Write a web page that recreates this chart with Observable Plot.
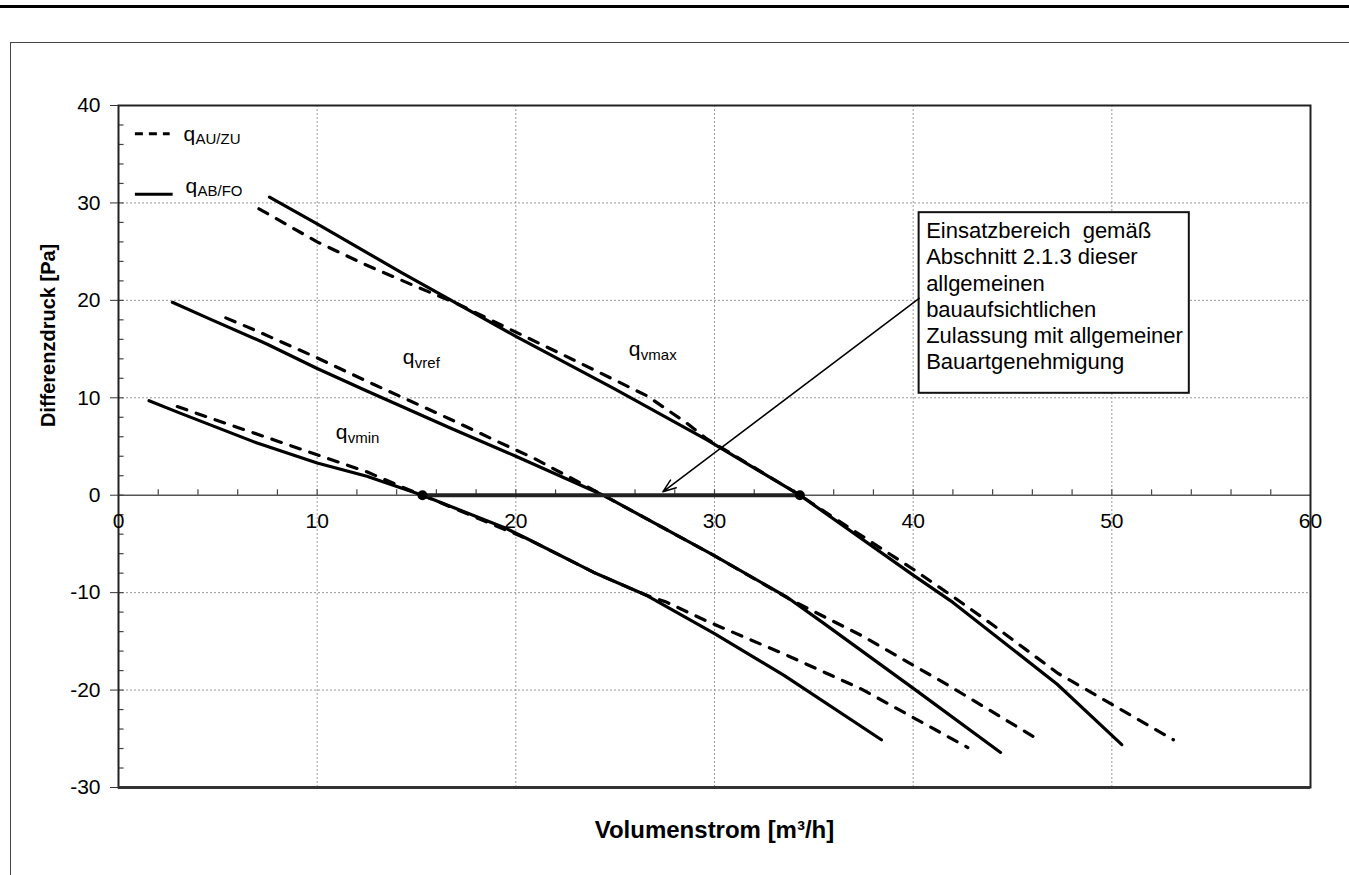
<!DOCTYPE html>
<html>
<head>
<meta charset="utf-8">
<script src="https://cdn.jsdelivr.net/npm/d3@7"></script>
<script src="https://cdn.jsdelivr.net/npm/@observablehq/plot@0.6"></script>
<style>
  html, body { margin: 0; padding: 0; background: #fff; }
  #wrap { position: relative; width: 1349px; height: 875px; overflow: hidden; background: #fff; }
  #wrap svg { position: absolute; left: 0; top: 0; }
  .deco { position: absolute; pointer-events: none; }
</style>
</head>
<body>
<div id="wrap"></div>
<script>
// ---- data ----
const xTicks = [0, 10, 20, 30, 40, 50, 60];
const yTicks = [-30, -20, -10, 0, 10, 20, 30, 40];

// q_vmax
const vmaxABx = [7.6, 10, 14.2, 20, 24.9, 29.6, 34.3, 40, 42, 47.25, 50.5];
const vmaxABy = [30.6, 27.85, 22.9, 16.3, 11.0, 5.7, 0, -8.2, -11.0, -19.4, -25.6];
const vmaxAUx = [7.07, 10, 12.5, 15, 17, 20.55, 23.2, 26.6, 28.6, 29.6, 34.3, 36, 40, 42, 44, 47.3, 53.1];
const vmaxAUy = [29.4, 26.0, 23.6, 21.4, 19.7, 16.2, 13.6, 10.2, 7.4, 5.8, 0, -2.3, -7.6, -10.4, -13.3, -18.3, -25.1];

// q_vref
const vrefABx = [2.71, 4.64, 7.49, 10, 12.5, 16.7, 20, 24.4, 29.9, 33.6, 35.4, 40.06, 44.4];
const vrefABy = [19.8, 18.05, 15.5, 13.0, 10.7, 6.9, 4.0, 0, -6.1, -10.4, -13.0, -19.9, -26.4];
const vrefAUx = [5.4, 6.8, 10, 12.5, 16.7, 19.2, 20.9, 24.4, 29.9, 33.9, 37.4, 41.8, 46.4];
const vrefAUy = [18.2, 17.0, 14.1, 11.7, 7.8, 5.4, 3.8, 0, -6.1, -10.8, -14.4, -19.55, -25.2];

// q_vmin
const vminABx = [1.54, 3.13, 6.98, 10, 12.5, 15.3, 19.5, 20.6, 23.9, 26.6, 30.0, 33.5, 38.4];
const vminABy = [9.7, 8.4, 5.35, 3.3, 1.95, 0, -3.4, -4.5, -7.9, -10.3, -14.2, -18.5, -25.1];
const vminAUx = [2.96, 4.64, 7.8, 10, 12.5, 14.2, 15.3, 20.6, 23.9, 26.6, 27.5, 29.7, 33.5, 37.4, 42.75];
const vminAUy = [9.1, 7.9, 5.7, 4.15, 2.4, 0.9, 0, -4.5, -7.9, -10.3, -10.9, -13.0, -16.3, -19.9, -25.9];

// operating range (Einsatzbereich) end points on the zero line
const rangeX = [15.3, 34.3];

const curveNames = ["vmax", "vref", "vmin"];
const curveLabelX = [25.69, 14.31, 10.93];
const curveLabelY = [14.26, 13.5, 5.8];

const legendKinds = ["AU/ZU", "AB/FO"];
const annotation = "Einsatzbereich\u00a0 gemäß\nAbschnitt 2.1.3 dieser\nallgemeinen\nbauaufsichtlichen\nZulassung mit allgemeiner\nBauartgenehmigung";

// ---- build tables ----
const seriesList = [
  {name: "vmax", kind: "AB/FO", xs: vmaxABx, ys: vmaxABy},
  {name: "vmax", kind: "AU/ZU", xs: vmaxAUx, ys: vmaxAUy},
  {name: "vref", kind: "AB/FO", xs: vrefABx, ys: vrefABy},
  {name: "vref", kind: "AU/ZU", xs: vrefAUx, ys: vrefAUy},
  {name: "vmin", kind: "AB/FO", xs: vminABx, ys: vminABy},
  {name: "vmin", kind: "AU/ZU", xs: vminAUx, ys: vminAUy}
];
const rows = seriesList.flatMap(s => s.xs.map((x, i) => ({x, y: s.ys[i], id: s.name + " " + s.kind, kind: s.kind})));
const dashedRows = rows.filter(d => d.kind === "AU/ZU");
const solidRows = rows.filter(d => d.kind === "AB/FO");
const labels = curveNames.map((n, i) => ({sub: n, x: curveLabelX[i], y: curveLabelY[i]}));

const font = "'Liberation Sans', Arial, Helvetica, sans-serif";

const chart = Plot.plot({
  width: 1349,
  height: 875,
  marginLeft: 118,
  marginRight: 39,
  marginTop: 105,
  marginBottom: 88,
  x: {domain: [0, 60], axis: null},
  y: {domain: [-30, 40], axis: null},
  style: {fontFamily: font, background: "transparent", color: "#000", overflow: "visible"},
  marks: [
    Plot.gridX([10, 20, 30, 40, 50], {stroke: "#999", strokeOpacity: 1, strokeWidth: 1, strokeDasharray: "2,2"}),
    Plot.gridY([-20, -10, 10, 20, 30], {stroke: "#999", strokeOpacity: 1, strokeWidth: 1, strokeDasharray: "2,2"}),
    // zero axis with minor ticks
    Plot.ruleY([0], {stroke: "#555", strokeWidth: 1.6}),
    Plot.ruleX(d3.range(2, 60, 2), {y1: 0, y2: 0.55, stroke: "#444", strokeWidth: 1.2}),
    Plot.ruleY(d3.range(-28, 40, 2), {x1: 0, x2: 0.28, stroke: "#444", strokeWidth: 1.2}),
    // curves
    Plot.line(dashedRows, {x: "x", y: "y", z: "id", stroke: "#000", strokeWidth: 3.2, strokeDasharray: "10,10", strokeLinecap: "round"}),
    Plot.line(solidRows, {x: "x", y: "y", z: "id", stroke: "#000", strokeWidth: 3.2, strokeLinecap: "round"}),
    // operating range
    Plot.line(rangeX.map(x => ({x, y: 0})), {x: "x", y: "y", stroke: "#222", strokeWidth: 4}),
    Plot.dot(rangeX.map(x => ({x, y: 0})), {x: "x", y: "y", r: 5, fill: "#000", stroke: "none"}),
    // annotation box and arrow
    Plot.rect([0], {x1: 40.3, x2: 53.9, y1: 10.46, y2: 29.0, fill: "white", stroke: "#111", strokeWidth: 2}),
    Plot.text([annotation], {x: 40.3, y: 29.0, dx: 7, dy: 7, textAnchor: "start", lineAnchor: "top", lineHeight: 1.19, fontSize: 22, fill: "#000"}),
    Plot.arrow([0], {x1: 40.3, y1: 20.2, x2: 27.4, y2: 0.35, stroke: "#000", strokeWidth: 1.5, headLength: 14, headAngle: 40}),
    // curve labels
    Plot.text(labels, {x: "x", y: "y", text: () => "q", textAnchor: "start", lineAnchor: "bottom", fontSize: 21}),
    Plot.text(labels, {x: "x", y: "y", text: "sub", dx: 12, dy: 4, textAnchor: "start", lineAnchor: "bottom", fontSize: 15}),
    // legend
    Plot.ruleY([37.1], {x1: 0.85, x2: 2.6, stroke: "#000", strokeWidth: 3, strokeDasharray: "8,6"}),
    Plot.ruleY([30.9], {x1: 0.85, x2: 2.75, stroke: "#000", strokeWidth: 3}),
    Plot.text(legendKinds, {x: [3.27, 3.37], y: [36.4, 30.97], text: () => "q", textAnchor: "start", lineAnchor: "bottom", fontSize: 21}),
    Plot.text(legendKinds, {x: [3.27, 3.37], y: [36.4, 30.97], text: d => d, dx: 12, dy: 3, textAnchor: "start", lineAnchor: "bottom", fontSize: 15}),
    // frame and axes
    Plot.frame({stroke: "#222", strokeWidth: 2}),
    Plot.ruleY([-30], {stroke: "#333", strokeWidth: 3}),
    Plot.axisY(yTicks, {tickSize: 8, tickPadding: 10, fontSize: 21, label: null, stroke: "#333", tickFormat: d => String(d)}),
    Plot.text(xTicks, {x: d => d, y: 0, dy: 26, fontSize: 21, fill: "#000", text: d => String(d)}),
    // axis titles
    Plot.text(["Differenzdruck [Pa]"], {x: 0, y: 16.4, dx: -70, rotate: -90, fontWeight: "bold", fontSize: 20, fill: "#000"}),
    Plot.text(["Volumenstrom [m³/h]"], {frameAnchor: "bottom", dy: 50, fontWeight: "bold", fontSize: 24, fill: "#000"})
  ]
});

const wrap = document.getElementById("wrap");
wrap.appendChild(chart);
// page decorations outside the chart
const topLine = document.createElement("div");
topLine.className = "deco";
Object.assign(topLine.style, {left: "0px", top: "5px", width: "1349px", height: "3px", background: "#000"});
wrap.appendChild(topLine);
const outer = document.createElement("div");
outer.className = "deco";
Object.assign(outer.style, {left: "10px", top: "42px", width: "1345px", height: "840px", borderLeft: "1.5px solid #444", borderTop: "1.5px solid #444"});
wrap.appendChild(outer);
</script>
</body>
</html>
